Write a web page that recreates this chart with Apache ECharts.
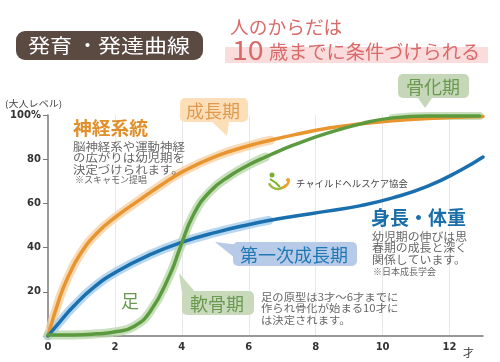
<!DOCTYPE html>
<html>
<head>
<meta charset="utf-8">
<style>
html, body { margin: 0; padding: 0; background: #fff; }
#main { width: 500px; height: 362px; }
</style>
<script src="https://cdn.jsdelivr.net/npm/echarts@6/dist/echarts.min.js"></script>
</head>
<body>
<div id="main"></div>
<script>
const nerveAges = [0, 0.36, 0.61, 0.96, 1.46, 2.06, 2.75, 3.35, 4.04, 5.05, 6.05, 6.65, 7.35, 8.35, 9.35, 10.3, 11.35, 13]
const nerveValues = [0, 17.8, 27, 37, 46.5, 54.3, 61.7, 68, 74.5, 81.5, 86.3, 88.6, 91, 94, 96, 97.4, 98.4, 99.3]
const heightAges = [0, 0.36, 0.75, 1.35, 2.06, 3.05, 4.04, 5.05, 6.05, 6.6, 7.35, 8.35, 9.35, 10.3, 11.35, 12.33, 13]
const heightValues = [0, 6.5, 13.2, 21.8, 29.2, 36.8, 42.6, 47, 50.6, 52.3, 54.2, 56.5, 59, 62.5, 67.8, 75, 81]
const legAges = [0, 0.75, 1.46, 2.06, 2.55, 3.05, 3.65, 3.95, 4.35, 4.85, 5.45, 6.05, 6.5, 6.95, 7.35, 8.35, 9.35, 10.3, 11.35, 12.9]
const legValues = [0.5, 0.5, 1, 2, 4.2, 11, 28, 40, 55, 65.5, 72.6, 77.8, 81, 84, 86.5, 91.8, 96, 98.7, 99.5, 99.5]
const xTicks = [0, 2, 4, 6, 8, 10, 12]
const yTicks = [20, 40, 60, 80, 100]

const JP = `'Noto Sans CJK JP', sans-serif`
const ORANGE = '#e8952f'
const BLUE = '#1a6fae'
const GREEN = '#5c9a3f'
const GREY = '#666'

function zip (ages, values, from, to) {
  const out = []
  ages.forEach((a, i) => {
    if (a >= from && a <= to) out.push([a, values[i]])
  })
  return out
}

function curve (name, data, color, width, opacity, z) {
  return {
    name: name,
    type: 'line',
    data: data,
    smooth: 0.5,
    showSymbol: false,
    z: z,
    lineStyle: { color: color, width: width, opacity: opacity, cap: 'round' }
  }
}

function label (x, y, text, size, color, extra, scaleX) {
  return {
    type: 'text',
    x: x,
    y: y,
    z: 20,
    scaleX: scaleX || 1,
    style: Object.assign({
      text: text,
      fontSize: size,
      fontFamily: JP,
      fill: color,
      lineHeight: 11.5
    }, extra || {})
  }
}

function bubble (x, y, w, h, color, tail) {
  return [
    { type: 'rect', z: 15, shape: { x: x, y: y, width: w, height: h, r: 5 }, style: { fill: color } },
    { type: 'polygon', z: 15, shape: { points: tail }, style: { fill: color } }
  ]
}

const chart = echarts.init(document.getElementById('main'))

chart.setOption({
  animation: false,
  backgroundColor: '#fff',
  grid: { left: 48, right: 17, top: 115, bottom: 26 },
  xAxis: {
    type: 'value',
    min: 0,
    max: 13,
    interval: 2,
    axisLine: { onZero: false, lineStyle: { color: '#777', width: 1.5 } },
    axisTick: { show: false },
    axisLabel: {
      margin: 6,
      color: '#333',
      fontSize: 10,
      fontWeight: 'bold',
      fontFamily: 'DejaVu Sans',
      customValues: xTicks
    },
    splitLine: { show: true, showMinLine: false, showMaxLine: false, lineStyle: { color: '#e8e8e8', width: 1 } }
  },
  yAxis: {
    type: 'value',
    min: 0,
    max: 100,
    interval: 20,
    axisLine: { show: true, lineStyle: { color: '#777', width: 1.5 } },
    axisTick: { show: true, inside: false, length: 5, lineStyle: { color: '#777' } },
    axisLabel: {
      margin: 7,
      color: '#333',
      fontSize: 10,
      fontWeight: 'bold',
      fontFamily: 'DejaVu Sans',
      formatter: v => {
        if (!yTicks.includes(v)) return ''
        return v === 100 ? '100%' : String(v)
      }
    },
    splitLine: { show: false }
  },
  series: [
    curve('神経系統帯', zip(nerveAges, nerveValues, 0, 6.65), '#f6cf9e', 9, 0.75, 2),
    curve('身長帯', zip(heightAges, heightValues, 0, 6.6), '#a9d0ec', 9, 0.85, 2),
    curve('足帯', zip(legAges, legValues, 0, 6.5), '#b5d6a4', 9, 0.75, 2),
    curve('骨化期帯', zip(legAges, legValues, 10.3, 12.9), '#c5dcb8', 8, 0.9, 2),
    curve('神経系統', zip(nerveAges, nerveValues, 0, 13), ORANGE, 3.5, 1, 4),
    curve('身長・体重', zip(heightAges, heightValues, 0, 13), BLUE, 3.5, 1, 5),
    curve('足', zip(legAges, legValues, 0, 13), GREEN, 3.5, 1, 6)
  ],
  graphic: [
    { type: 'rect', z: 10, shape: { x: 16, y: 31, width: 187, height: 29, r: 9 }, style: { fill: '#5a4a42' } },
    label(28, 35, '発育', 19, '#fff', { lineHeight: 22 }, 1.16),
    label(78, 35, '・', 19, '#fff', { lineHeight: 22 }),
    label(98, 35, '発達曲線', 19, '#fff', { lineHeight: 22 }, 1.21),

    { type: 'rect', z: 10, shape: { x: 225, y: 47, width: 263, height: 16 }, style: { fill: '#fadcdc' } },
    label(230, 16, '人のからだは', 18, '#d96a6a', { lineHeight: 22 }, 1.04),
    label(232, 36, '10', 26, '#d96a6a', { lineHeight: 28 }, 1.1),
    label(269, 41, '歳までに条件づけられる', 19, '#d96a6a', { lineHeight: 22 }, 1.01),

    label(5, 98, '(大人レベル)', 9, '#444', null, 1.12),
    label(463, 346, '才', 11, '#333', { lineHeight: 13 }),

    ...bubble(180, 98, 68, 24, '#fcdfb8', [[212, 122], [229, 122], [227, 136]]),
    label(186, 101, '成長期', 18, '#e09a50', { lineHeight: 20 }),
    ...bubble(398, 74, 71, 24, '#c6d6b8', [[418, 98], [432, 98], [425, 108]]),
    label(406, 77, '骨化期', 18, '#6a9a50', { lineHeight: 20 }),
    ...bubble(233, 242, 124, 24, '#b7cae8', [[240, 245], [240, 262], [215, 242]]),
    label(240, 245, '第一次成長期', 18, '#1f78b4', { lineHeight: 20 }),
    ...bubble(182, 291, 72, 24, '#c9dabc', [[196, 293], [182, 293], [179, 273]]),
    label(190, 294, '軟骨期', 18, '#6a9a50', { lineHeight: 20 }),

    label(121, 290, '足', 18, '#6a9a50', { lineHeight: 22 }),

    label(73, 118, '神経系統', 18, '#e08f2a', { lineHeight: 20, fontWeight: 'bold' }, 1.04),
    label(73, 141, '脳神経系や運動神経\nの広がりは幼児期を\n決定づけられます。', 11, GREY, null, 1.13),
    label(75, 174, '※スキャモン提唱', 9, GREY),

    label(371, 207, '身長・体重', 19, '#1a6fa8', { lineHeight: 22, fontWeight: 'bold' }),
    label(372, 231, '幼児期の伸びは思\n春期の成長と深く\n関係しています。', 11, GREY, null, 1.08),
    label(373, 266, '※日本成長学会', 9, GREY),

    label(261, 291, '足の原型は3才〜6才までに\n作られ骨化が始まる10才に\nは決定されます。', 10.5, GREY, null, 1.08),

    { type: 'arc', z: 12, shape: { cx: 278, cy: 179, r: 10, startAngle: 0.6, endAngle: 2.7 }, style: { stroke: '#9cb840', fill: 'none', lineWidth: 2.5 } },
    { type: 'arc', z: 12, shape: { cx: 280, cy: 179, r: 9, startAngle: 0.2, endAngle: 1.3 }, style: { stroke: '#f0a030', fill: 'none', lineWidth: 2.5 } },
    { type: 'circle', z: 12, shape: { cx: 272, cy: 175, r: 2.5 }, style: { fill: '#7ab030' } },
    { type: 'circle', z: 12, shape: { cx: 288, cy: 180, r: 2 }, style: { fill: '#f0a030' } },
    { type: 'polyline', z: 12, shape: { points: [[270, 179], [276, 183], [280, 187]] }, style: { stroke: '#7ab030', fill: 'none', lineWidth: 2 } },
    label(296, 178, 'チャイルドヘルスケア協会', 9.5, '#444', null, 0.98)
  ]
})
</script>
</body>
</html>
